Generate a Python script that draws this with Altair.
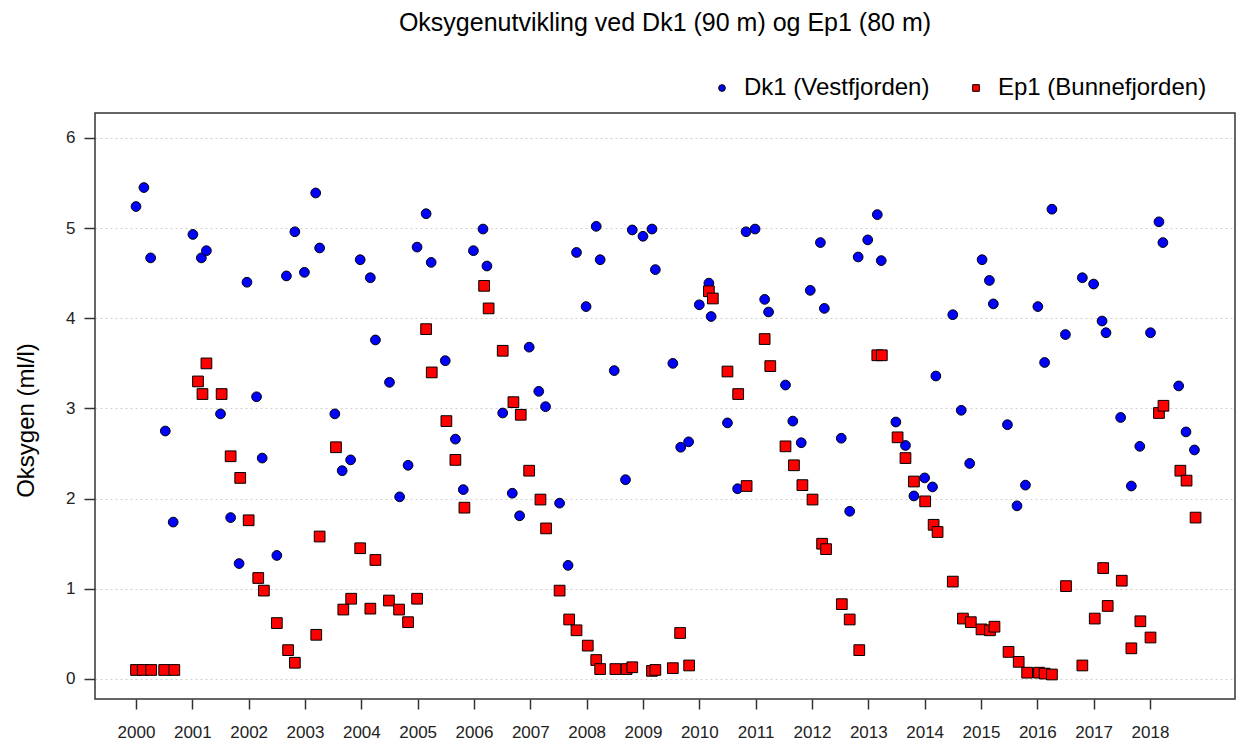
import altair as alt
import pandas as pd

# Dk1 (Vestfjorden), 90 m: sampling time (decimal year) and oxygen (ml/l)
dk1_time = [
    2000.00, 2000.14, 2000.26, 2000.52, 2000.66, 2001.01, 2001.16, 2001.25, 2001.50, 2001.68,
    2001.83, 2001.97, 2002.14, 2002.24, 2002.50, 2002.67, 2002.82, 2002.99, 2003.19, 2003.26,
    2003.53, 2003.66, 2003.81, 2003.98, 2004.16, 2004.25, 2004.50, 2004.68, 2004.83, 2004.99,
    2005.15, 2005.24, 2005.49, 2005.67, 2005.81, 2005.99, 2006.16, 2006.23, 2006.51, 2006.68,
    2006.81, 2006.98, 2007.15, 2007.27, 2007.52, 2007.67, 2007.82, 2007.99, 2008.17, 2008.24,
    2008.49, 2008.69, 2008.81, 2009.00, 2009.16, 2009.22, 2009.53, 2009.67, 2009.81, 2010.00,
    2010.17, 2010.21, 2010.50, 2010.68, 2010.83, 2010.99, 2011.16, 2011.23, 2011.53, 2011.66,
    2011.81, 2011.97, 2012.15, 2012.22, 2012.52, 2012.67, 2012.82, 2012.99, 2013.16, 2013.23,
    2013.49, 2013.66, 2013.81, 2014.00, 2014.14, 2014.20, 2014.50, 2014.65, 2014.80, 2015.02,
    2015.15, 2015.22, 2015.47, 2015.64, 2015.79, 2016.01, 2016.13, 2016.26, 2016.50, 2016.80,
    2017.00, 2017.15, 2017.22, 2017.48, 2017.67, 2017.82, 2018.01, 2018.16, 2018.23, 2018.51,
    2018.64, 2018.79,
]
dk1_oxygen = [
    5.24, 5.45, 4.67, 2.75, 1.74, 4.93, 4.67, 4.75, 2.94, 1.79,
    1.28, 4.40, 3.13, 2.45, 1.37, 4.47, 4.96, 4.51, 5.39, 4.78,
    2.94, 2.31, 2.43, 4.65, 4.45, 3.76, 3.29, 2.02, 2.37, 4.79,
    5.16, 4.62, 3.53, 2.66, 2.10, 4.75, 4.99, 4.58, 2.95, 2.06,
    1.81, 3.68, 3.19, 3.02, 1.95, 1.26, 4.73, 4.13, 5.02, 4.65,
    3.42, 2.21, 4.98, 4.91, 4.99, 4.54, 3.50, 2.57, 2.63, 4.15,
    4.39, 4.02, 2.84, 2.11, 4.96, 4.99, 4.21, 4.07, 3.26, 2.86,
    2.62, 4.31, 4.84, 4.11, 2.67, 1.86, 4.68, 4.87, 5.15, 4.64,
    2.85, 2.59, 2.03, 2.23, 2.13, 3.36, 4.04, 2.98, 2.39, 4.65,
    4.42, 4.16, 2.82, 1.92, 2.15, 4.13, 3.51, 5.21, 3.82, 4.45,
    4.38, 3.97, 3.84, 2.90, 2.14, 2.58, 3.84, 5.07, 4.84, 3.25,
    2.74, 2.54,
]

# Ep1 (Bunnefjorden), 80 m
ep1_time = [
    2000.00, 2000.12, 2000.27, 2000.50, 2000.68, 2001.10, 2001.18, 2001.25, 2001.52, 2001.68,
    2001.85, 2002.00, 2002.17, 2002.27, 2002.50, 2002.70, 2002.82, 2003.20, 2003.26, 2003.55,
    2003.68, 2003.82, 2003.98, 2004.16, 2004.25, 2004.49, 2004.67, 2004.83, 2004.99, 2005.15,
    2005.25, 2005.51, 2005.67, 2005.83, 2006.18, 2006.26, 2006.51, 2006.70, 2006.83, 2006.98,
    2007.18, 2007.28, 2007.52, 2007.69, 2007.82, 2008.02, 2008.17, 2008.24, 2008.51, 2008.71,
    2008.81, 2009.16, 2009.22, 2009.53, 2009.66, 2009.82, 2010.17, 2010.24, 2010.50, 2010.69,
    2010.84, 2011.16, 2011.26, 2011.53, 2011.68, 2011.83, 2012.01, 2012.18, 2012.25, 2012.53,
    2012.67, 2012.84, 2013.16, 2013.24, 2013.52, 2013.66, 2013.81, 2014.01, 2014.16, 2014.23,
    2014.50, 2014.68, 2014.82, 2015.01, 2015.16, 2015.24, 2015.49, 2015.67, 2015.82, 2016.03,
    2016.13, 2016.26, 2016.51, 2016.80, 2017.02, 2017.17, 2017.25, 2017.50, 2017.67, 2017.83,
    2018.01, 2018.16, 2018.24, 2018.54, 2018.65, 2018.81,
]
ep1_oxygen = [
    0.10, 0.10, 0.10, 0.10, 0.10, 3.30, 3.16, 3.50, 3.16, 2.47,
    2.23, 1.76, 1.12, 0.98, 0.62, 0.32, 0.18, 0.49, 1.58, 2.57,
    0.77, 0.89, 1.45, 0.78, 1.32, 0.87, 0.77, 0.63, 0.89, 3.88,
    3.40, 2.86, 2.43, 1.90, 4.36, 4.11, 3.64, 3.07, 2.93, 2.31,
    1.99, 1.67, 0.98, 0.66, 0.54, 0.37, 0.21, 0.11, 0.11, 0.11,
    0.13, 0.09, 0.10, 0.12, 0.51, 0.15, 4.30, 4.22, 3.41, 3.16,
    2.14, 3.77, 3.47, 2.58, 2.37, 2.15, 1.99, 1.50, 1.44, 0.83,
    0.66, 0.32, 3.59, 3.59, 2.68, 2.45, 2.19, 1.97, 1.71, 1.63,
    1.08, 0.67, 0.63, 0.55, 0.54, 0.58, 0.30, 0.19, 0.07, 0.07,
    0.06, 0.05, 1.03, 0.15, 0.67, 1.23, 0.81, 1.09, 0.34, 0.64,
    0.46, 2.95, 3.03, 2.31, 2.20, 1.79,
]

series = ["Dk1 (Vestfjorden)", "Ep1 (Bunnefjorden)"]
year_ticks = list(range(2000, 2019))
oxygen_ticks = [0, 1, 2, 3, 4, 5, 6]

df = pd.concat([
    pd.DataFrame({"tid": dk1_time, "oksygen": dk1_oxygen, "stasjon": series[0]}),
    pd.DataFrame({"tid": ep1_time, "oksygen": ep1_oxygen, "stasjon": series[1]}),
], ignore_index=True)

FONT = "Liberation Sans"

x_enc = alt.X(
    "tid:Q",
    scale=alt.Scale(domain=[1999.272, 2019.51], nice=False, zero=False),
    axis=alt.Axis(values=year_ticks, format="d", title=None, grid=False,
                  domain=False, tickSize=10, tickColor="#333333", tickWidth=1.5,
                  labelFontSize=17, labelPadding=15, labelColor="#222222",
                  labelFont=FONT),
)
y_enc = alt.Y(
    "oksygen:Q",
    scale=alt.Scale(domain=[-0.222, 6.277], nice=False, zero=False),
    axis=alt.Axis(values=oxygen_ticks, title="Oksygen (ml/l)", grid=True,
                  gridColor="#cfcfcf", gridDash=[2, 3], gridWidth=1,
                  domain=False, tickSize=11, tickColor="#333333", tickWidth=1.5,
                  labelFontSize=17, labelPadding=9, labelColor="#222222",
                  labelFont=FONT, titleFont=FONT, titleFontSize=24,
                  titleFontWeight="normal", titleColor="#000000", titlePadding=27,
                  titleY=307),
)

legend_style = dict(
    title=None, orient="none", direction="horizontal",
    legendX=615, legendY=-37, labelFontSize=24, labelFont=FONT,
    labelColor="#000000", labelLimit=0, symbolSize=45,
    symbolStrokeColor="#000000", symbolStrokeWidth=1,
    labelOffset=10, columnPadding=34, padding=0,
)
color_enc = alt.Color(
    "stasjon:N",
    scale=alt.Scale(domain=series, range=["#0000ff", "#ff0000"]),
    legend=alt.Legend(**legend_style),
)
shape_enc = alt.Shape(
    "stasjon:N",
    scale=alt.Scale(domain=series, range=["circle", "square"]),
    legend=alt.Legend(**legend_style),
)

base = alt.Chart(df)

dk1_layer = base.transform_filter(alt.datum.stasjon == series[0]).mark_point(
    filled=True, stroke="#000000", strokeWidth=1, size=95, opacity=1
).encode(x=x_enc, y=y_enc, color=color_enc, shape=shape_enc)

ep1_layer = base.transform_filter(alt.datum.stasjon == series[1]).mark_point(
    filled=True, stroke="#000000", strokeWidth=1, size=115, opacity=1
).encode(x=x_enc, y=y_enc, color=color_enc, shape=shape_enc)

chart = alt.layer(dk1_layer, ep1_layer).properties(
    width=1140,
    height=586,
    autosize=alt.AutoSizeParams(type="none"),
    padding={"left": 95, "top": 113, "right": 4, "bottom": 41},
    title=alt.TitleParams(
        "Oksygenutvikling ved Dk1 (90 m) og Ep1 (80 m)",
        font=FONT, fontSize=25, fontWeight="normal", color="#000000",
        anchor="middle", offset=40,
    ),
).configure(
    font=FONT
).configure_view(
    stroke="#333333", strokeWidth=1.5
)

chart.save("out.html", embed_options={"renderer": "svg", "actions": False})
